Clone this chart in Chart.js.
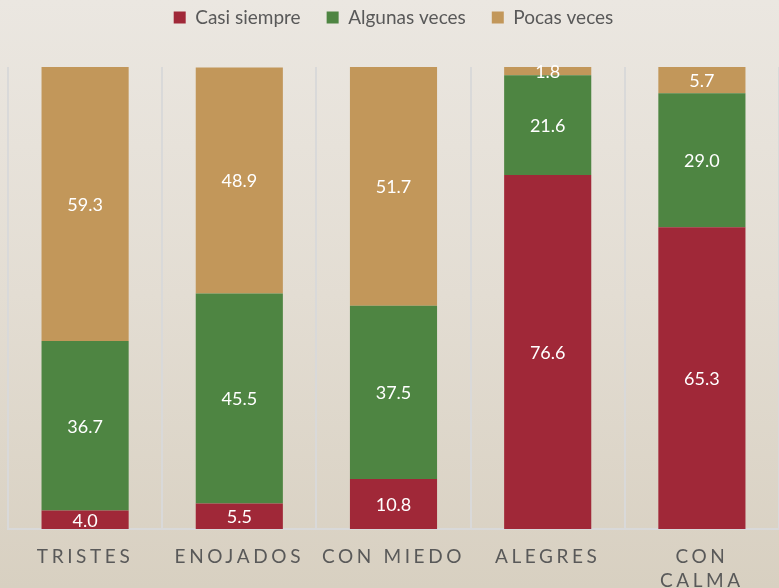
<!DOCTYPE html>
<html>
<head>
<meta charset="utf-8">
<script src="https://cdn.jsdelivr.net/npm/chart.js@4/dist/chart.umd.min.js"></script>
<style>
    html, body { margin: 0; padding: 0; }
    body {
        width: 779px;
        height: 588px;
        overflow: hidden;
        background: linear-gradient(to bottom, #ebe7e1 0%, #e3ddd3 50%, #d8d0c1 100%);
    }
    #wrap { position: relative; width: 779px; height: 588px; }
</style>
</head>
<body>
<div id="wrap"><canvas id="chart"></canvas></div>
<script>
// =====================================
// DATA
// =====================================
const categories = ["TRISTES", "ENOJADOS", "CON MIEDO", "ALEGRES", ["CON", "CALMA"]];
const casiSiempre = [4.0, 5.5, 10.8, 76.6, 65.3];
const algunasVeces = [36.7, 45.5, 37.5, 21.6, 29.0];
const pocasVeces = [59.3, 48.9, 51.7, 1.8, 5.7];

const COLORS = {
    casi: "#a02838",
    algunas: "#4e8542",
    pocas: "#c2975a"
};

const FONT = "Lato, 'Open Sans', sans-serif";

// =====================================
// PLUGINS
// =====================================
// extra room under the legend
const legendMargin = {
    id: "legendMargin",
    beforeInit(chart) {
        const fit = chart.legend.fit;
        chart.legend.fit = function () {
            fit.bind(chart.legend)();
            this.height += 30;
        };
    }
};

// value labels centred in each segment
const segmentLabels = {
    id: "segmentLabels",
    afterDatasetsDraw(chart) {
        const ctx = chart.ctx;
        ctx.save();
        ctx.font = "18px " + FONT;
        ctx.fillStyle = "#ffffff";
        ctx.textAlign = "center";
        ctx.textBaseline = "middle";
        chart.data.datasets.forEach((ds, i) => {
            chart.getDatasetMeta(i).data.forEach((bar, j) => {
                const mid = (bar.y + bar.base) / 2;
                ctx.fillText(ds.data[j].toFixed(1), bar.x, mid + 1);
            });
        });
        ctx.restore();
    }
};

// x labels with letter spacing
const spacedTicks = {
    id: "spacedTicks",
    afterDraw(chart) {
        const ctx = chart.ctx;
        const xs = chart.scales.x;
        ctx.save();
        ctx.font = "19px " + FONT;
        ctx.fillStyle = "#595959";
        ctx.textAlign = "center";
        ctx.textBaseline = "top";
        ctx.letterSpacing = "3.6px";
        categories.forEach((c, i) => {
            const x = xs.getPixelForValue(i);
            const lines = Array.isArray(c) ? c : [c];
            lines.forEach((ln, k) => {
                ctx.fillText(ln, x, 547 + k * 24);
            });
        });
        ctx.restore();
    }
};

// =====================================
// CHART
// =====================================
const ctx = document.getElementById("chart").getContext("2d");

new Chart(ctx, {
    type: "bar",
    data: {
        labels: categories.map(c => Array.isArray(c) ? c.join(" ") : c),
        datasets: [
            { label: "Casi siempre", data: casiSiempre, backgroundColor: COLORS.casi },
            { label: "Algunas veces", data: algunasVeces, backgroundColor: COLORS.algunas },
            { label: "Pocas veces", data: pocasVeces, backgroundColor: COLORS.pocas }
        ]
    },
    options: {
        responsive: true,
        maintainAspectRatio: false,
        animation: false,
        datasets: {
            bar: {
                categoryPercentage: 1,
                barPercentage: 0.565,
                borderWidth: 0
            }
        },
        layout: {
            padding: { left: 8, right: 0, top: -18, bottom: 0 }
        },
        plugins: {
            legend: {
                display: true,
                position: "top",
                labels: {
                    font: { family: FONT, size: 19 },
                    color: "#595959",
                    boxWidth: 12,
                    boxHeight: 12,
                    padding: 26
                }
            },
            tooltip: { enabled: false }
        },
        scales: {
            x: {
                stacked: true,
                grid: {
                    display: true,
                    offset: true,
                    color: "#d9d9d9",
                    lineWidth: 2,
                    drawTicks: false
                },
                border: { display: true, color: "#d9d9d9", width: 2 },
                ticks: { display: false },
                afterFit: s => { s.height = 59; }
            },
            y: {
                stacked: true,
                display: false,
                min: 0,
                max: 100
            }
        }
    },
    plugins: [legendMargin, segmentLabels, spacedTicks]
});
</script>
</body>
</html>
